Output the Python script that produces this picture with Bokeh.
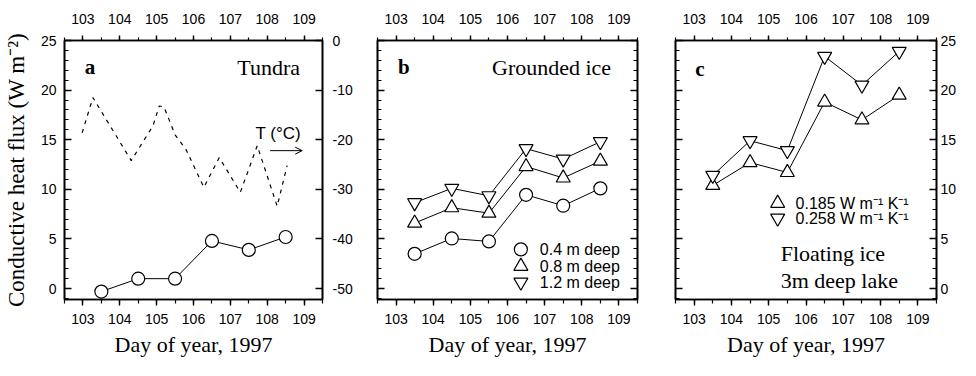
from bokeh.plotting import figure
from bokeh.layouts import row
from bokeh.models import (Range1d, LinearAxis, SingleIntervalTicker, Label, Arrow,
                          OpenHead, CustomJSTickFormatter)
from bokeh.embed import file_html
from bokeh.resources import INLINE

# ---------------- data ----------------
days = [103.5, 104.5, 105.5, 106.5, 107.5, 108.5]

# (a) Tundra conductive heat flux (W m-2)
tundra_flux = [-0.3, 1.0, 1.0, 4.8, 3.9, 5.2]
# (a) air temperature T (deg C), dashed
temp_time = [102.98, 103.27, 104.31, 104.9, 105.07, 105.2, 105.5, 105.8, 106.28,
             106.7, 107.27, 107.73, 108.27, 108.54]
temp_c = [-18.6, -11.5, -24.2, -17.2, -13.2, -13.4, -19.0, -22.0, -29.6,
          -23.6, -30.6, -21.2, -33.4, -25.2]

# (b) Grounded ice
ice_04 = [-43.0, -39.9, -40.5, -31.1, -33.3, -29.8]
ice_08 = [-36.8, -33.7, -34.8, -25.4, -27.7, -24.3]
ice_12 = [-32.7, -29.8, -31.3, -21.8, -23.9, -20.4]
ice_labels = ["0.4 m deep", "0.8 m deep", "1.2 m deep"]

# (c) Floating ice, 3 m deep lake
lake_k0185 = [10.4, 12.7, 11.7, 18.8, 17.0, 19.5]
lake_k0258 = [11.4, 14.9, 13.9, 23.4, 20.5, 23.9]
lake_labels = ["0.185 W m\u207b\u00b9 K\u207b\u00b9", "0.258 W m\u207b\u00b9 K\u207b\u00b9"]

x_lo, x_hi = 102.5, 109.5
flux_range = (-1.1, 25)
temp_range = (-52.2, 0)

SERIF = "Liberation Serif"
SANS = "Liberation Sans"
TICK_FS = "14px"
TITLE_FS = "22px"
FRAME_H = 259
HYPHEN_FMT = "return String(tick);"


def blank(ax):
    ax.formatter = CustomJSTickFormatter(code="return ''")
    ax.major_label_standoff = 0


def style_common(ax):
    ax.axis_line_color = "black"
    ax.axis_line_width = 1.6
    ax.major_tick_line_color = "black"
    ax.major_tick_line_width = 1.4
    ax.minor_tick_line_color = "black"
    ax.minor_tick_line_width = 1.2
    ax.major_label_text_font = SANS
    ax.major_label_text_font_size = TICK_FS
    ax.major_label_text_color = "black"
    ax.formatter = CustomJSTickFormatter(code=HYPHEN_FMT)


def make_label(p, x, y, text, font, size, align, style="normal"):
    p.add_layout(Label(x=x, y=y, text=text, text_font=font, text_font_size=size,
                       text_font_style=style, text_align=align, text_baseline="middle",
                       text_color="black"))


def make_fig(fw, bl, br, yr, y_int, y_minor):
    p = figure(frame_width=fw, frame_height=FRAME_H,
               x_range=Range1d(x_lo, x_hi), y_range=Range1d(*yr),
               output_backend="svg", toolbar_location=None,
               min_border_left=bl, min_border_right=br,
               min_border_top=40, min_border_bottom=61)
    p.xgrid.visible = False
    p.ygrid.visible = False
    p.outline_line_color = "black"
    p.outline_line_width = 1.6
    p.background_fill_color = "white"
    p.border_fill_color = "white"

    xb = p.xaxis[0]
    xb.ticker = SingleIntervalTicker(interval=1, num_minor_ticks=2)
    style_common(xb)
    xb.major_tick_out = 6
    xb.major_tick_in = 0
    xb.minor_tick_out = 4
    xb.minor_tick_in = 0
    xb.major_label_standoff = 8
    xb.axis_label = "Day of year, 1997"
    xb.axis_label_text_font = SERIF
    xb.axis_label_text_font_style = "normal"
    xb.axis_label_text_font_size = TITLE_FS
    xb.axis_label_text_color = "black"
    xb.axis_label_standoff = 5

    xt = LinearAxis(ticker=SingleIntervalTicker(interval=1, num_minor_ticks=2))
    style_common(xt)
    xt.major_tick_out = 5
    xt.major_tick_in = 0
    xt.minor_tick_out = 3
    xt.minor_tick_in = 0
    xt.major_label_standoff = 12
    p.add_layout(xt, "above")

    yl = p.yaxis[0]
    yl.ticker = SingleIntervalTicker(interval=y_int, num_minor_ticks=y_minor)
    style_common(yl)
    yl.major_tick_in = 7
    yl.major_tick_out = 0
    yl.minor_tick_in = 4
    yl.minor_tick_out = 0
    return p


# ---------------- panel a ----------------
pa = make_fig(258, 64, 42, flux_range, 5, 5)
ya = pa.yaxis[0]
ya.major_label_standoff = 8
ya.axis_label = "Conductive heat flux (W m\u207b\u00b2)"
ya.axis_label_text_font = SERIF
ya.axis_label_text_font_style = "normal"
ya.axis_label_text_font_size = "23px"
ya.axis_label_text_color = "black"
ya.axis_label_standoff = 9

pa.extra_y_ranges = {"T": Range1d(*temp_range)}
ta = LinearAxis(y_range_name="T", ticker=SingleIntervalTicker(interval=10, num_minor_ticks=0))
style_common(ta)
ta.major_tick_in = 7
ta.major_tick_out = 0
ta.minor_tick_line_color = None
ta.major_label_standoff = 10
pa.add_layout(ta, "right")

pa.line(temp_time, temp_c, y_range_name="T", line_color="black",
        line_width=1.2, line_dash="4 5")
pa.line(days, tundra_flux, line_color="black", line_width=1)
pa.scatter(days, tundra_flux, marker="circle", size=13, fill_color="white",
           line_color="black", line_width=1.2)

make_label(pa, 103.05, 22.3, "a", SERIF, "21px", "left", "bold")
make_label(pa, 108.89, 22.3, "Tundra", SERIF, TITLE_FS, "right")
make_label(pa, 108.3, 15.6, "T (\u00b0C)", SANS, "17px", "center")
pa.add_layout(Arrow(end=OpenHead(size=7, line_width=1, line_color="black"),
                    x_start=108.08, y_start=13.9, x_end=108.95, y_end=13.9,
                    line_color="black", line_width=1))

# ---------------- panel b ----------------
pb = make_fig(260, 13, 19, temp_range, 10, 5)
blank(pb.yaxis[0])
rb = LinearAxis(ticker=SingleIntervalTicker(interval=10, num_minor_ticks=5))
style_common(rb)
rb.major_tick_in = 7
rb.major_tick_out = 0
rb.minor_tick_in = 4
rb.minor_tick_out = 0
blank(rb)
pb.add_layout(rb, "right")

b_series = [(ice_04, "circle"), (ice_08, "triangle"), (ice_12, "inverted_triangle")]
for vals, mk in b_series:
    pb.line(days, vals, line_color="black", line_width=1)
for vals, mk in b_series:
    pb.scatter(days, vals, marker=mk, size=13 if mk == "circle" else 14,
               fill_color="white", line_color="black", line_width=1.2)

# legend keys (b)
key_x_b, key_tx_b = 106.36, 106.87
key_y_b = [-42.1, -45.5, -48.7]
for (vals, mk), ky, lab in zip(b_series, key_y_b, ice_labels):
    pb.scatter([key_x_b], [ky], marker=mk, size=13 if mk == "circle" else 14,
               fill_color="white", line_color="black", line_width=1.2)
    make_label(pb, key_tx_b, ky, lab, SANS, "16px", "left")

make_label(pb, 103.05, -5.4, "b", SERIF, "21px", "left", "bold")
make_label(pb, 108.79, -5.4, "Grounded ice", SERIF, TITLE_FS, "right")

# ---------------- panel c ----------------
pc = make_fig(261, 19, 24, flux_range, 5, 5)
blank(pc.yaxis[0])
rc = LinearAxis(ticker=SingleIntervalTicker(interval=5, num_minor_ticks=5))
style_common(rc)
rc.major_tick_in = 7
rc.major_tick_out = 0
rc.minor_tick_in = 4
rc.minor_tick_out = 0
rc.major_label_standoff = 4
pc.add_layout(rc, "right")

c_series = [(lake_k0185, "triangle"), (lake_k0258, "inverted_triangle")]
for vals, mk in c_series:
    pc.line(days, vals, line_color="black", line_width=1)
for vals, mk in c_series:
    pc.scatter(days, vals, marker=mk, size=14, fill_color="white",
               line_color="black", line_width=1.2)

key_x_c, key_tx_c = 105.24, 105.72
key_y_c = [8.6, 7.1]
for (vals, mk), ky, lab in zip(c_series, key_y_c, lake_labels):
    pc.scatter([key_x_c], [ky], marker=mk, size=14, fill_color="white",
               line_color="black", line_width=1.2)
    make_label(pc, key_tx_c, ky, lab, SANS, "16px", "left")

make_label(pc, 103.03, 22.1, "c", SERIF, "21px", "left", "bold")
make_label(pc, 105.32, 3.5, "Floating ice", SERIF, TITLE_FS, "left")
make_label(pc, 105.32, 0.8, "3m deep lake", SERIF, TITLE_FS, "left")

layout = row(pa, pb, pc)
open("out.html", "w").write(file_html(layout, INLINE))
